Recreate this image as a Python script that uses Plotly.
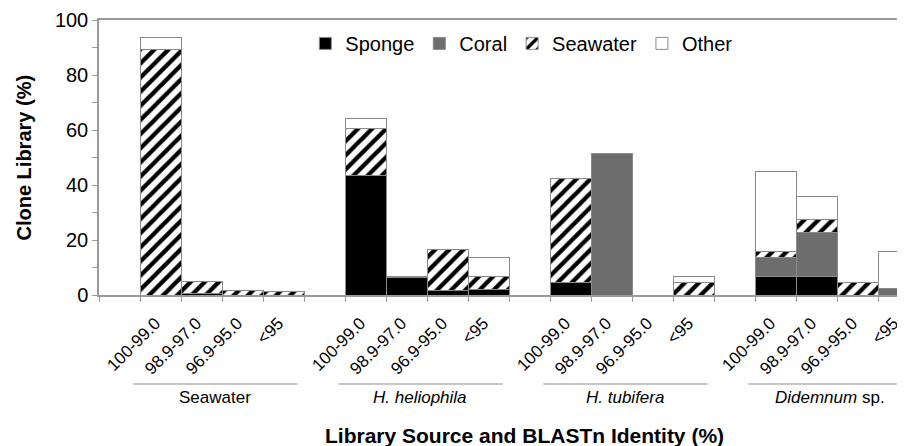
import plotly.graph_objects as go

groups = ["Seawater", "<i>H. heliophila</i>", "<i>H. tubifera</i>", "<i>Didemnum</i> sp."]
identities = ["100-99.0", "98.9-97.0", "96.9-95.0", "<95"]

# values per bar, group-major order (4 groups x 4 identity bins), % of clone library
sponge = [0, 0.7, 0, 0, 43.4, 6.2, 1.8, 2.1, 4.5, 0, 0, 0, 6.9, 6.9, 0, 0]
coral = [0, 0, 0, 0, 0, 0, 0, 0, 0, 51.5, 0, 0, 6.7, 15.9, 0, 2.4]
seawater = [89.3, 4.1, 1.8, 1.2, 17.0, 0, 14.9, 4.8, 37.9, 0, 0, 4.6, 2.2, 4.5, 4.5, 0]
other = [4.3, 0, 0, 0, 3.8, 0.7, 0, 6.7, 0, 0, 0, 2.3, 29.0, 8.4, 0, 13.4]

FONT = "Liberation Sans, Arial, Helvetica, sans-serif"
OUTLINE = "#8a8a8a"

# slot positions: one empty slot before each group of four bars
xpos = [1 + g * 5 + i for g in range(len(groups)) for i in range(len(identities))]
xlabels = [lab for g in groups for lab in identities]


def nz(vals):
    return [v if v else None for v in vals]


fig = go.Figure()
fig.add_bar(x=xpos, y=nz(sponge), name="Sponge", width=1,
            marker=dict(color="#000000", line=dict(color=OUTLINE, width=1)))
fig.add_bar(x=xpos, y=nz(coral), name="Coral", width=1,
            marker=dict(color="#6d6d6d", line=dict(color=OUTLINE, width=1)))
fig.add_bar(x=xpos, y=nz(seawater), name="Seawater", width=1,
            marker=dict(color="white", line=dict(color=OUTLINE, width=1),
                        pattern=dict(shape="/", fgcolor="black", bgcolor="white",
                                     fgopacity=1, size=10, solidity=0.42)))
fig.add_bar(x=xpos, y=nz(other), name="Other", width=1,
            marker=dict(color="white", line=dict(color=OUTLINE, width=1)))

# the page body adds an 8px offset, so the figure is 8px smaller than the window
fig.update_layout(
    width=897, height=438,
    margin=dict(l=91, r=0, t=12, b=151),
    barmode="stack",
    plot_bgcolor="white", paper_bgcolor="white",
    font=dict(family=FONT, color="black", size=17),
    showlegend=True,
    legend=dict(orientation="h", x=0.256, y=0.915, xanchor="left", yanchor="middle",
                font=dict(size=20, family=FONT), bgcolor="rgba(0,0,0,0)",
                traceorder="normal"),
)

fig.update_xaxes(
    automargin=False,
    range=[-0.5, -0.5 + 806 / 41],
    tickmode="array", tickvals=xpos, ticktext=xlabels, tickangle=-45,
    ticks="outside", ticklen=10, tickcolor="rgba(0,0,0,0)",
    tickfont=dict(size=17, family=FONT, color="black"),
    ticklabeloverflow="allow", ticklabelshift=-5,
    showline=True, linecolor="#9a9a9a", linewidth=1.5, mirror=True,
    showgrid=False, zeroline=False,
    minor=dict(tickmode="linear", tick0=0.5, dtick=1, ticks="outside",
               ticklen=5, tickcolor="#9a9a9a", showgrid=False),
)
fig.update_yaxes(
    automargin=False,
    range=[0, 100], tickmode="linear", tick0=0, dtick=20,
    ticks="outside", ticklen=5, tickcolor="#9a9a9a",
    tickfont=dict(size=20, family=FONT),
    showline=True, linecolor="#9a9a9a", linewidth=1.5,
    showgrid=False, zeroline=False,
    minor=dict(tickmode="linear", tick0=0, dtick=10, ticks="outside",
               ticklen=5, tickcolor="#9a9a9a", showgrid=False),
)

# group underlines and labels
for g, name in enumerate(groups):
    x0 = g * 5 + 0.5 - 0.16
    x1 = x0 + 4
    fig.add_shape(type="line", xref="x", yref="paper", x0=x0, x1=x1,
                  y0=-0.3236, y1=-0.3236, line=dict(color="#8a8a8a", width=1))
    fig.add_annotation(x=(x0 + x1) / 2, y=-0.3745, xref="x", yref="paper",
                       text=name, showarrow=False, xanchor="center", yanchor="middle",
                       font=dict(size=17, family=FONT))

fig.add_annotation(x=(23 - 99) / 806, y=0.5, xref="paper", yref="paper",
                   text="<b>Clone Library (%)</b>", textangle=-90, showarrow=False,
                   xanchor="center", yanchor="middle", font=dict(size=20, family=FONT))
fig.add_annotation(x=(524 - 99) / 806, y=(295 - 435) / 275, xref="paper", yref="paper",
                   text="<b>Library Source and BLASTn Identity (%)</b>", showarrow=False,
                   xanchor="center", yanchor="middle", font=dict(size=21, family=FONT))

fig.write_html("out.html")
